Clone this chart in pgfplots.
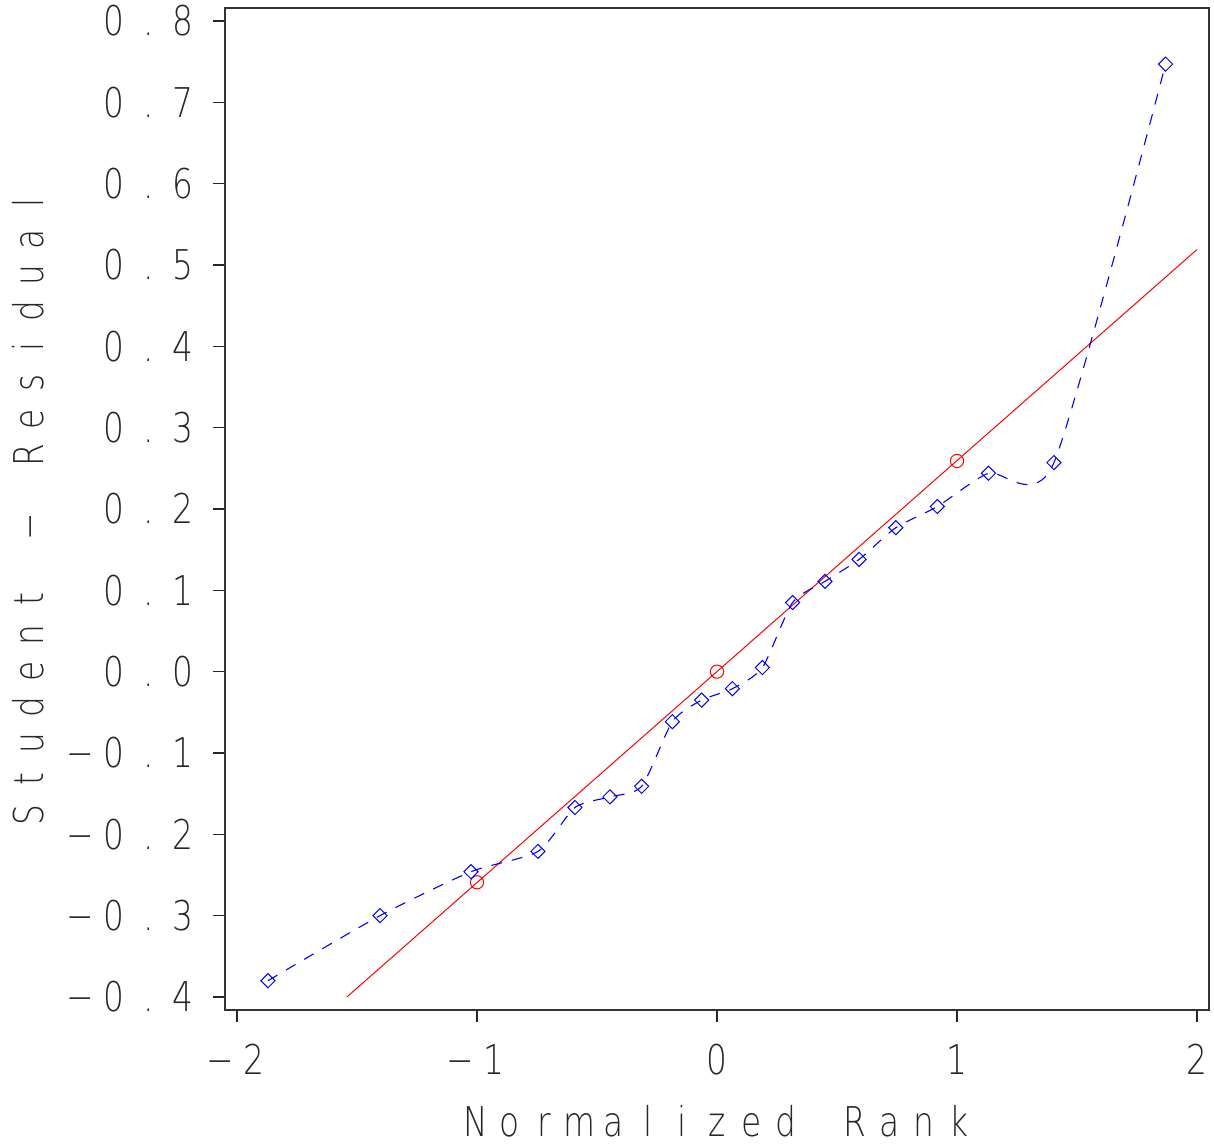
\documentclass[border=0pt]{standalone}
\usepackage{fontspec}
\setmainfont{DejaVu Sans}[UprightFont={* ExtraLight}, FakeStretch=0.8]
\usepackage{pgfplots}
\pgfplotsset{compat=1.18}
\newcommand\cc[1]{\makebox[17.25pt]{#1}}
\newcommand\cy[1]{\makebox[18pt]{#1}}
\newcommand\mn{\cc{−}}
\begin{document}
\begin{tikzpicture}
\begin{axis}[
  name=ax,
  scale only axis,
  width=492pt, height=501pt,
  xmin=-2.05, xmax=2.05,
  ymin=-0.416, ymax=0.816,
  axis line style={black!80, line width=1pt},
  tick align=outside,
  xtick pos=bottom, ytick pos=left,
  major tick length=6pt,
  tick style={black!85, line width=0.6pt},
  xtick={-2,-1,0,1,2},
  xticklabels={\mn\cc{2},\mn\cc{1},\cc{0},\cc{1},\cc{2}},
  ytick={-0.4,-0.3,-0.2,-0.1,0,0.1,0.2,0.3,0.4,0.5,0.6,0.7,0.8},
  yticklabels={\mn\cc{0}\cc{.}\cc{4},\mn\cc{0}\cc{.}\cc{3},\mn\cc{0}\cc{.}\cc{2},\mn\cc{0}\cc{.}\cc{1},
    \cc{0}\cc{.}\cc{0},\cc{0}\cc{.}\cc{1},\cc{0}\cc{.}\cc{2},\cc{0}\cc{.}\cc{3},\cc{0}\cc{.}\cc{4},
    \cc{0}\cc{.}\cc{5},\cc{0}\cc{.}\cc{6},\cc{0}\cc{.}\cc{7},\cc{0}\cc{.}\cc{8}},
  ticklabel style={font=\fontsize{20.5pt}{24pt}\selectfont, text=black!85},
  yticklabel style={anchor=east, inner sep=0pt, xshift=-6pt},
  xticklabel style={anchor=north, inner sep=0pt, yshift=-11pt},
  label style={font=\fontsize{20.5pt}{24pt}\selectfont, text=black!85, inner sep=0pt},
  xlabel={\cc{N}\cc{o}\cc{r}\cc{m}\cc{a}\cc{l}\cc{i}\cc{z}\cc{e}\cc{d}\cc{ }\cc{R}\cc{a}\cc{n}\cc{k}},
  ylabel={\cy{S}\cy{t}\cy{u}\cy{d}\cy{e}\cy{n}\cy{t}\cy{ }\cy{−}\cy{ }\cy{R}\cy{e}\cy{s}\cy{i}\cy{d}\cy{u}\cy{a}\cy{l}},
  xlabel style={at={(axis description cs:0.5,0)}, anchor=center, yshift=-55.5pt},
  ylabel style={at={(axis description cs:-0.2002,0.5)}, anchor=center},
  clip=false,
]
\addplot[red, line width=0.5pt] coordinates {(-1.542,-0.4) (2,0.519)};
\addplot[red, only marks, mark=o, mark size=3.3pt, mark options={line width=0.5pt}]
  coordinates {(-1,-0.259) (0,0) (1,0.259)};
\addplot[blue, line width=0.55pt, dash pattern=on 5.5pt off 5pt, smooth, tension=0.4,
  mark=square, mark size=2.5pt, mark options={solid, rotate=45, line width=0.5pt}]
  coordinates {
  (-1.871,-0.380) (-1.404,-0.300) (-1.025,-0.246) (-0.746,-0.221)
  (-0.592,-0.167) (-0.446,-0.154) (-0.314,-0.141) (-0.186,-0.0615)
  (-0.064,-0.035) (0.064,-0.021) (0.189,0.005) (0.315,0.085)
  (0.450,0.111) (0.592,0.138) (0.745,0.177) (0.918,0.203)
  (1.131,0.244) (1.404,0.257) (1.869,0.747)
  };
\end{axis}
\path (ax.south west) ++(-112.5pt,-68pt) coordinate (bbA);
\path (ax.north east) ++(2.5pt,4pt) coordinate (bbB);
\pgfresetboundingbox
\path[use as bounding box] (bbA) rectangle (bbB);
\end{tikzpicture}
\end{document}
